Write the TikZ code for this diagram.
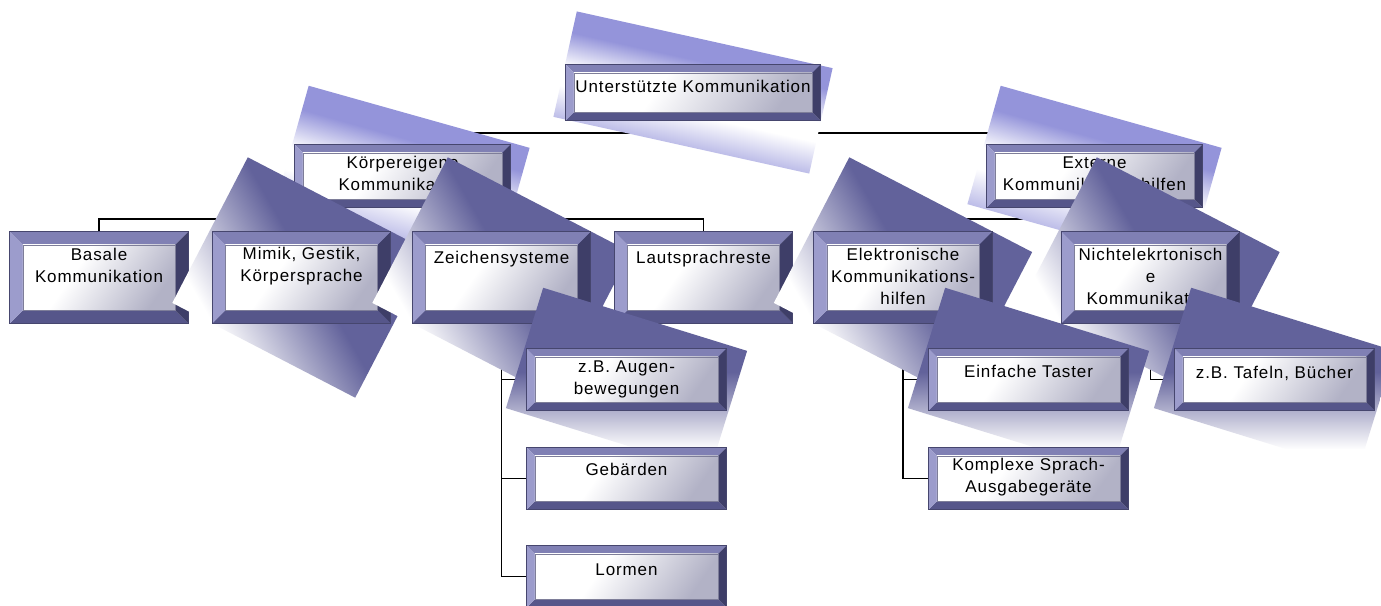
\documentclass[tikz,border=0pt]{standalone}
\usepackage{fontspec}
\setmainfont{Liberation Sans}[LetterSpace=5.3]
\usetikzlibrary{calc}
\definecolor{sdark}{RGB}{98,98,155}
\definecolor{sblue}{RGB}{148,148,218}
\colorlet{sbluemid}{sblue!62}
\definecolor{bvtop}{RGB}{128,128,180}
\definecolor{bvleft}{RGB}{156,156,204}
\definecolor{bvright}{RGB}{62,62,104}
\definecolor{bvbot}{RGB}{86,86,138}
\definecolor{bvline}{RGB}{70,70,110}
\definecolor{facegrey}{RGB}{178,178,198}
\pgfdeclarehorizontalshading{lightsh}{100bp}{color(0bp)=(sbluemid); color(25bp)=(sbluemid); color(40bp)=(white); color(49bp)=(white); color(65bp)=(sblue); color(100bp)=(sblue)}
\pgfdeclarehorizontalshading{lvtwosh}{100bp}{color(0bp)=(white); color(30bp)=(white); color(52bp)=(sdark); color(100bp)=(sdark)}
\pgfdeclarehorizontalshading{lvthreesh}{100bp}{color(0bp)=(white); color(31bp)=(white); color(52bp)=(sdark); color(100bp)=(sdark)}
\pgfdeclarehorizontalshading{facesh}{100bp}{color(0bp)=(white); color(40bp)=(white); color(75bp)=(facegrey); color(100bp)=(facegrey)}
\pgfdeclarelayer{bg}
\pgfsetlayers{bg,main}
\tikzset{
  boxnode/.style={rectangle, inner sep=0pt, draw=none},
  txt/.style={anchor=north, inner sep=0pt, align=center, font=\fontsize{17}{22}\selectfont},
  conn/.style={draw=black, line width=1.5pt},
  shlvtwo/.style={shading=lvtwosh, shading angle=30},
  shlvthree/.style={shading=lvthreesh, shading angle=90},
}
% dark shadows: gradient in screen frame
% #1 style, #2 cx, #3 cy, #4 half width, #5 half height, #6 angle (clockwise)
\newcommand\ShadowRect[6]{%
  \begin{scope}[shift={(#2,#3)}, rotate=-#6]
    \shade[#1] (-#4,-#5) rectangle (#4,#5);
  \end{scope}}
% light shadows: gradient follows the rotated rectangle
\newcommand\LightShadow[5]{%
  \begin{scope}[transform canvas={shift={(#1,#2)}, rotate=-#5}]
    \shade[shading=lightsh, shading angle=90] (-#3,-#4) rectangle (#3,#4);
  \end{scope}}
% #1 name, #2 cx, #3 cy, #4 w, #5 h, #6 bevel, #7 first baseline offset, #8 text
\newcommand\BevBox[8]{%
  \node[boxnode, minimum width=#4pt, minimum height=#5pt] (#1) at (#2,#3) {};
  \fill[bvtop] (#1.north west) -- (#1.north east) -- ($(#1.north east)+(-#6,#6)$) -- ($(#1.north west)+(#6,#6)$) -- cycle;
  \fill[bvbot] (#1.south west) -- (#1.south east) -- ($(#1.south east)+(-#6,-#6)$) -- ($(#1.south west)+(#6,-#6)$) -- cycle;
  \fill[bvleft] (#1.north west) -- ($(#1.north west)+(#6,#6)$) -- ($(#1.south west)+(#6,-#6)$) -- (#1.south west) -- cycle;
  \fill[bvright] (#1.north east) -- ($(#1.north east)+(-#6,#6)$) -- ($(#1.south east)+(-#6,-#6)$) -- (#1.south east) -- cycle;
  \shade[shading=facesh, shading angle=-35, draw=bvline!70, line width=0.6pt] ($(#1.north west)+(#6,#6)$) rectangle ($(#1.south east)+(-#6,-#6)$);
  \draw[bvline, line width=0.8pt] (#1.north west) rectangle (#1.south east);
  \begin{scope}
    \clip ($(#1.north west)+(#6,#6)$) rectangle ($(#1.south east)+(-#6,-#6)$);
    \node[txt] (#1-t) at ($(#1.north)+(0,#7-16)$) {\rule{0pt}{16pt}#8};
  \end{scope}}
\begin{document}
\begin{tikzpicture}[x=1pt, y=-1pt]
\useasboundingbox (0,0) rectangle (1381,605);
% level 0 and 1
\LightShadow{693}{92.5}{131}{54}{12.5}
\BevBox{root}{693}{92.5}{254}{55}{8}{27}{Unterstützte Kommunikation}
\LightShadow{402.5}{176}{114.75}{61.5}{15.7}
\BevBox{koerper}{402.5}{176}{215}{62}{8}{23}{Körpereigene\\Kommunikation}
\LightShadow{1094.5}{176}{114.75}{61.5}{15.7}
\BevBox{externe}{1094.5}{176}{215}{62}{8}{23}{Externe\\Kommunikationshilfen}
% level 2
\BevBox{basale}{99}{277.5}{178}{91}{13}{28}{Basale\\Kommunikation}
\ShadowRect{shlvtwo}{301.5}{277.5}{103}{82}{27.4}
\BevBox{mimik}{301.5}{277.5}{178}{91}{13}{27}{Mimik, Gestik,\\Körpersprache}
\ShadowRect{shlvtwo}{501.5}{277.5}{103}{82}{27.4}
\BevBox{zeichen}{501.5}{277.5}{178}{91}{13}{31}{Zeichensysteme}
\BevBox{laut}{703.5}{277.5}{178}{91}{13}{31}{Lautsprachreste}
\ShadowRect{shlvtwo}{903}{277.5}{103}{82}{27.4}
\BevBox{elektron}{903}{277.5}{178}{91}{13}{28}{Elektronische\\Kommunikations-\\hilfen}
\ShadowRect{shlvtwo}{1150.5}{277.5}{103}{82}{27.4}
\BevBox{nicht}{1150.5}{277.5}{178}{91}{13}{28}{Nichtelekrtonisch\\e\\Kommunikation}
% level 3
\ShadowRect{shlvthree}{626.5}{379.5}{106.75}{63}{17.2}
\BevBox{augen}{626.5}{379.5}{199}{61}{8}{23}{z.B. Augen-\\bewegungen}
\BevBox{gebaerden}{626.5}{478.5}{199}{61}{8}{27}{Gebärden}
\BevBox{lormen}{626.5}{576.5}{199}{61}{8}{29}{Lormen}
\ShadowRect{shlvthree}{1028.5}{379.5}{106.75}{63}{17.2}
\BevBox{einfach}{1028.5}{379.5}{199}{61}{8}{28}{Einfache Taster}
\BevBox{komplex}{1028.5}{478.5}{199}{61}{8}{22}{Komplexe Sprach-\\Ausgabegeräte}
\ShadowRect{shlvthree}{1274.5}{379.5}{106.75}{63}{17.2}
\BevBox{tafeln}{1274.5}{379.5}{199}{61}{8}{29}{z.B. Tafeln, Bücher}
% connectors
\begin{pgfonlayer}{bg}
  \fill[white] (0,0) rectangle (1381,605);
  \coordinate (bus0) at (0,133);
  \coordinate (bus1) at (0,219);
  \draw[conn] (root.south) -- (root.south |- bus0);
  \draw[conn] (koerper.north) -- (koerper.north |- bus0) -- (externe.north |- bus0) -- (externe.north);
  \draw[conn] (koerper.south) -- (koerper.south |- bus1);
  \draw[conn] (basale.north) -- (basale.north |- bus1) -- (laut.north |- bus1) -- (laut.north);
  \draw[conn] (mimik.north) -- (mimik.north |- bus1);
  \draw[conn] (zeichen.north) -- (zeichen.north |- bus1);
  \draw[conn] (externe.south) -- (externe.south |- bus1);
  \draw[conn] (elektron.north) -- (elektron.north |- bus1) -- (nicht.north |- bus1) -- (nicht.north);
  \draw[conn] (zeichen.south) -- (zeichen.south |- lormen.west) -- (lormen.west);
  \draw[conn] (zeichen.south |- augen.west) -- (augen.west);
  \draw[conn] (zeichen.south |- gebaerden.west) -- (gebaerden.west);
  \draw[conn] (elektron.south) -- (elektron.south |- komplex.west) -- (komplex.west);
  \draw[conn] (elektron.south |- einfach.west) -- (einfach.west);
  \draw[conn] (nicht.south) -- (nicht.south |- tafeln.west) -- (tafeln.west);
\end{pgfonlayer}
\end{tikzpicture}
\end{document}
